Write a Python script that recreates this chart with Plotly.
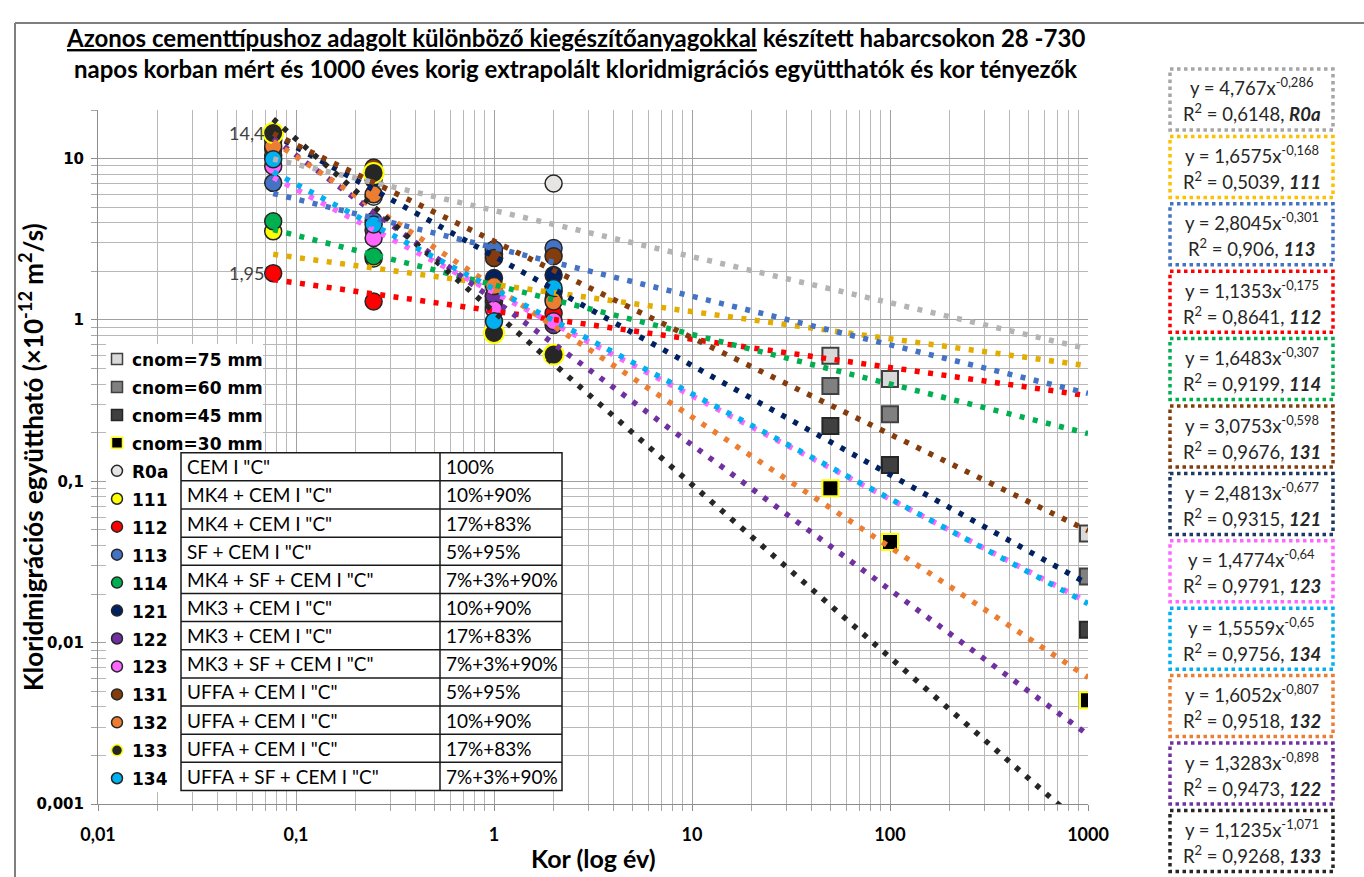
import math
import plotly.graph_objects as go

# ---------------- data ----------------
age_days = [28, 90, 365, 730]
age_years = [d / 365 for d in age_days]

codes = ["R0a", "111", "112", "113", "114", "121", "122", "123", "131", "132", "133", "134"]
descriptions = ['CEM I "C"', 'MK4 + CEM I "C"', 'MK4 + CEM I "C"', 'SF + CEM I "C"',
                'MK4 + SF + CEM I "C"', 'MK3 + CEM I "C"', 'MK3 + CEM I "C"',
                'MK3 + SF + CEM I "C"', 'UFFA + CEM I "C"', 'UFFA + CEM I "C"',
                'UFFA + CEM I "C"', 'UFFA + SF + CEM I "C"']
proportions = ["100%", "10%+90%", "17%+83%", "5%+95%", "7%+3%+90%", "10%+90%", "17%+83%",
               "7%+3%+90%", "5%+95%", "10%+90%", "17%+83%", "7%+3%+90%"]

D_R0a = [10.5, 5.8, 2.55, 7.0]
D_111 = [3.54, 2.4, 1.3, 1.5]
D_112 = [1.95, 1.3, 1.2, 1.1]
D_113 = [7.07, 4.1, 2.73, 2.79]
D_114 = [4.09, 2.48, 1.40, 1.35]
D_121 = [13.0, 7.4, 1.82, 1.9]
D_122 = [11.5, 3.6, 1.4, 0.93]
D_123 = [8.96, 3.22, 1.16, 0.98]
D_131 = [13.7, 8.8, 2.42, 2.48]
D_132 = [11.9, 6.0, 1.62, 1.3]
D_133 = [14.4, 8.15, 0.83, 0.61]
D_134 = [9.9, 3.9, 0.98, 1.58]
measured = [D_R0a, D_111, D_112, D_113, D_114, D_121, D_122, D_123, D_131, D_132, D_133, D_134]

# power-law fits y = a * x^b as printed in the boxes
fit_a = [4.767, 1.6575, 1.1353, 2.8045, 1.6483, 2.4813, 1.3283, 1.4774, 3.0753, 1.6052, 1.1235, 1.5559]
fit_b = [-0.286, -0.168, -0.175, -0.301, -0.307, -0.677, -0.898, -0.64, -0.598, -0.807, -1.071, -0.65]
fit_r2 = [0.6148, 0.5039, 0.8641, 0.906, 0.9199, 0.9315, 0.9473, 0.9791, 0.9676, 0.9518, 0.9268, 0.9756]
trend_end_year = 1000

box_order = ["R0a", "111", "113", "112", "114", "131", "121", "123", "134", "132", "122", "133"]

cnom_labels = ["cnom=75 mm", "cnom=60 mm", "cnom=45 mm", "cnom=30 mm"]
cnom_years = [50, 100, 1000]
cnom_75 = [0.60, 0.43, 0.0475]
cnom_60 = [0.39, 0.26, 0.0257]
cnom_45 = [0.22, 0.126, 0.012]
cnom_30 = [0.0905, 0.042, 0.0044]
cnom_values = [cnom_75, cnom_60, cnom_45, cnom_30]

x_ticks = [0.01, 0.1, 1, 10, 100, 1000]
x_ticktext = ["0,01", "0,1", "1", "10", "100", "1000"]
y_ticks = [0.001, 0.01, 0.1, 1, 10]
y_ticktext = ["0,001", "0,01", "0,1", "1", "10"]

# ---------------- styles ----------------
fill_colors = ["#e7e4e4", "#ffff00", "#ff0000", "#4472c4", "#00b050", "#002060",
               "#7030a0", "#ff66ff", "#843c0c", "#ed7d31", "#262626", "#00b0f0"]
trend_colors = ["#b4b4b4", "#e2ac00", "#ff0000", "#4472c4", "#00b050", "#002060",
                "#7030a0", "#ff66ff", "#843c0c", "#ed7d31", "#262626", "#00b0f0"]
box_colors = ["#a6a6a6", "#ffc000", "#ff0000", "#4472c4", "#00b050", "#203864",
              "#7030a0", "#ff66ff", "#843c0c", "#ed7d31", "#262626", "#00b0f0"]
outline_colors = ["#262626"] * 10 + ["#ffff00", "#262626"]
cnom_fill = ["#d9d9d9", "#808080", "#404040", "#000000"]
cnom_line = ["#404040", "#404040", "#262626", "#ffff00"]

FONT = "Lato"
L, R, T, B = 98, 1088, 110, 804
W, H = 1364, 877


def px(x):
    return (x - L) / (R - L)


def py(y):
    return (B - y) / (B - T)


def fmt(v):
    return str(v).replace(".", ",")


def ann(x, y, text, size, family=FONT, xanchor="center", color="black", **kw):
    d = dict(xref="paper", yref="paper", x=px(x), y=py(y), text=text, showarrow=False,
             xanchor=xanchor, yanchor="middle", font=dict(family=family, size=size, color=color))
    d.update(kw)
    return d


fig = go.Figure()

# measured points
for i, c in enumerate(codes):
    big = c == "133"
    fig.add_trace(go.Scatter(
        x=age_years, y=measured[i], mode="markers",
        marker=dict(symbol="circle", size=20 if big else 17, color=fill_colors[i],
                    line=dict(color=outline_colors[i], width=2 if big else 1.5)),
        showlegend=False, hoverinfo="skip"))

# cnom squares
for k, vals in enumerate(cnom_values):
    fig.add_trace(go.Scatter(
        x=cnom_years, y=vals, mode="markers",
        marker=dict(symbol="square", size=16, color=cnom_fill[k],
                    line=dict(color=cnom_line[k], width=2)),
        showlegend=False, hoverinfo="skip"))

# trend lines (power law -> straight on log-log)
for i, c in enumerate(codes):
    xs = [age_years[0], trend_end_year]
    ys = [fit_a[i] * x ** fit_b[i] for x in xs]
    fig.add_trace(go.Scatter(
        x=xs, y=ys, mode="lines",
        line=dict(color=trend_colors[i], width=5.5, dash="5px,8.5px"),
        showlegend=False, hoverinfo="skip"))

shapes = []
annotations = []

# outer frame
shapes.append(dict(type="line", xref="paper", yref="paper", x0=px(15), x1=px(15), y0=py(23), y1=py(H + 5),
                   line=dict(color="#7f7f7f", width=2)))
shapes.append(dict(type="line", xref="paper", yref="paper", x0=px(15), x1=px(W + 5), y0=py(23), y1=py(23),
                   line=dict(color="#7f7f7f", width=2)))

# title
annotations.append(ann(575, 37, "<b><u>Azonos cementtípushoz adagolt különböző kiegészítőanyagokkal</u> "
                                "készített habarcsokon 28 -730</b>", 24))
annotations.append(ann(575, 68, "<b>napos korban mért és 1000 éves korig extrapolált kloridmigrációs "
                                "együtthatók és kor tényezők</b>", 24))

# axis titles
annotations.append(ann(31, 457, "<b>Kloridmigrációs együttható (×10<sup>-12</sup> m<sup>2</sup>/s)</b>", 26,
                       textangle=-90))
annotations.append(ann(593, 858, "<b>Kor (log év)</b>", 25))

# data labels
for c, lab in [("133", "14,4"), ("112", "1,95")]:
    i = codes.index(c)
    annotations.append(dict(x=math.log10(age_years[0]), y=math.log10(measured[i][0]), xref="x", yref="y",
                            text=lab, showarrow=False, xanchor="right", yanchor="middle", xshift=-7,
                            font=dict(family=FONT, size=18, color="#404040")))

# legend background
shapes.append(dict(type="rect", xref="paper", yref="paper", x0=px(106), x1=px(263), y0=py(344), y1=py(792),
                   fillcolor="white", line=dict(width=0), layer="above"))

row0, rowh = 359, 27.95
leg_items = [(lab, "square", cnom_fill[k], cnom_line[k]) for k, lab in enumerate(cnom_labels)] + \
            [(c, "circle", fill_colors[i], outline_colors[i]) for i, c in enumerate(codes)]
for r, (lab, sym, fc, lc) in enumerate(leg_items):
    yc = row0 + r * rowh
    shapes.append(dict(type="rect" if sym == "square" else "circle", xref="paper", yref="paper",
                       xsizemode="pixel", ysizemode="pixel", xanchor=px(117), yanchor=py(yc),
                       x0=-5.5, x1=5.5, y0=-5.5, y1=5.5, fillcolor=fc,
                       line=dict(color=lc, width=1.5), layer="above"))
    annotations.append(ann(130, yc + 1, "<b>" + lab + "</b>", 17, family="DejaVu Sans", xanchor="left"))

# table
t_top, t_rowh = 452.7, 28.15
t_left, t_mid, t_right = 181, 440, 562
t_bot = t_top + t_rowh * len(codes)
shapes.append(dict(type="rect", xref="paper", yref="paper", x0=px(t_left), x1=px(t_right),
                   y0=py(t_top), y1=py(t_bot), fillcolor="white",
                   line=dict(color="#1a1a1a", width=1.5), layer="above"))
shapes.append(dict(type="line", xref="paper", yref="paper", x0=px(t_mid), x1=px(t_mid),
                   y0=py(t_top), y1=py(t_bot), line=dict(color="#1a1a1a", width=1.5), layer="above"))
for r in range(1, len(codes)):
    yl = t_top + r * t_rowh
    shapes.append(dict(type="line", xref="paper", yref="paper", x0=px(t_left), x1=px(t_right),
                       y0=py(yl), y1=py(yl), line=dict(color="#1a1a1a", width=1.5), layer="above"))
for r in range(len(codes)):
    yc = t_top + (r + 0.5) * t_rowh
    annotations.append(ann(t_left + 4, yc, descriptions[r], 19, xanchor="left"))
    annotations.append(ann(t_mid + 4, yc, proportions[r], 19, xanchor="left"))

# equation boxes
b_top0, b_step, b_h = 69, 67.4, 61
b_left, b_right = 1170, 1333
b_cx = (b_left + b_right) / 2
for k, c in enumerate(box_order):
    i = codes.index(c)
    top = b_top0 + k * b_step
    shapes.append(dict(type="rect", xref="paper", yref="paper", x0=px(b_left), x1=px(b_right),
                       y0=py(top), y1=py(top + b_h), fillcolor="white",
                       line=dict(color=box_colors[i], width=3.5, dash="dot")))
    annotations.append(ann(b_cx, top + 18, "y = " + fmt(fit_a[i]) + "x<sup>" + fmt(fit_b[i]) + "</sup>",
                           18.5, color="#262626"))
    annotations.append(ann(b_cx, top + 44, "R<sup>2</sup> = " + fmt(fit_r2[i]) + ", <b><i>" + c + "</i></b>",
                           18.5, color="#262626"))

minor_x = [m * 10 ** e for e in range(-2, 3) for m in range(2, 10)]
minor_y = [m * 10 ** e for e in range(-3, 1) for m in range(2, 10)] + [20]

fig.update_layout(
    width=W, height=H, autosize=False,
    margin=dict(l=L, r=W - R, t=T, b=H - B),
    paper_bgcolor="white", plot_bgcolor="white",
    showlegend=False, hovermode=False,
    shapes=shapes, annotations=annotations,
    xaxis=dict(type="log", range=[-2, 3], tickmode="array", tickvals=x_ticks,
               ticktext=["<b>" + t + "</b>" for t in x_ticktext],
               tickfont=dict(family=FONT, size=18, color="black"),
               showgrid=True, gridcolor="#a0a0a0", gridwidth=1,
               showline=True, linecolor="#8c8c8c", linewidth=1, mirror=False,
               ticks="outside", ticklen=6, tickcolor="#8c8c8c", ticklabelstandoff=8,
               zeroline=False,
               minor=dict(tickmode="array", tickvals=minor_x, showgrid=True, gridcolor="#b8b8b8",
                          gridwidth=1, ticks="outside", ticklen=6, tickcolor="#a6a6a6")),
    yaxis=dict(type="log", range=[-3, 1.30103], tickmode="array", tickvals=y_ticks,
               ticktext=["<b>" + t + "</b>" for t in y_ticktext],
               tickfont=dict(family="DejaVu Sans", size=15, color="black"),
               showgrid=True, gridcolor="#a0a0a0", gridwidth=1,
               showline=True, linecolor="#8c8c8c", linewidth=1,
               ticks="outside", ticklen=6, tickcolor="#8c8c8c", ticklabelstandoff=4,
               zeroline=False,
               minor=dict(tickmode="array", tickvals=minor_y, showgrid=True, gridcolor="#b8b8b8",
                          gridwidth=1, ticks="outside", ticklen=6, tickcolor="#a6a6a6")),
)

fig.write_html("out.html")
